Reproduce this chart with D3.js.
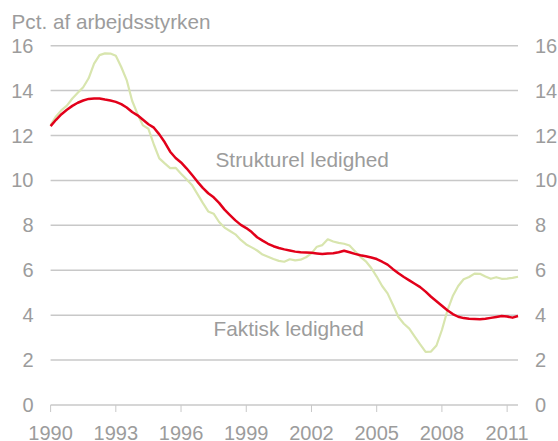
<!DOCTYPE html>
<html>
  <head>
    <meta charset="utf-8" />
    <script src="https://d3js.org/d3.v7.min.js"></script>
    <style>
      body { margin: 0; background: #fff; }
      text { font-family: "Liberation Sans", Arial, sans-serif; fill: #9c9c9c; }
    </style>
  </head>
  <body>
    <script>
      // quarterly observations, 1990Q1 .. 2011Q3
      const quarters = d3.range(0, 87).map((i) => 1990 + i / 4);

      // strukturel ledighed (red)
      const structural = [
        12.42, 12.7, 12.95, 13.15, 13.32, 13.46, 13.56, 13.63, 13.65, 13.65, 13.6, 13.56,
        13.5, 13.4, 13.25, 13.05, 12.9, 12.7, 12.5, 12.35, 12.05, 11.7, 11.28, 11.0,
        10.8, 10.54, 10.25, 9.95, 9.67, 9.43, 9.25, 9.0, 8.7, 8.46, 8.22, 8.02,
        7.88, 7.7, 7.47, 7.32, 7.18, 7.07, 6.99, 6.93, 6.88, 6.83, 6.8, 6.79,
        6.78, 6.75, 6.72, 6.75, 6.76, 6.8, 6.87, 6.8, 6.73, 6.67, 6.62, 6.57,
        6.5, 6.38, 6.25, 6.05, 5.87, 5.7, 5.55, 5.4, 5.25, 5.05, 4.82, 4.62,
        4.42, 4.22, 4.05, 3.93, 3.87, 3.84, 3.83, 3.82, 3.84, 3.88, 3.92, 3.96,
        3.94, 3.89, 3.96
      ];

      // faktisk ledighed (light green)
      const actual = [
        12.47, 12.85, 13.13, 13.33, 13.65, 13.9, 14.15, 14.55, 15.2, 15.58, 15.66, 15.65,
        15.55, 15.05, 14.47, 13.55, 12.95, 12.45, 12.3, 11.6, 10.98, 10.76, 10.55, 10.56,
        10.3, 10.05, 9.8, 9.4, 9.0, 8.62, 8.52, 8.15, 7.9, 7.75, 7.6, 7.35,
        7.15, 7.02, 6.88, 6.7, 6.6, 6.5, 6.42, 6.38, 6.49, 6.44, 6.47, 6.58,
        6.75, 7.05, 7.12, 7.38, 7.28, 7.22, 7.18, 7.1, 6.85, 6.6, 6.4, 6.1,
        5.72, 5.3, 4.97, 4.45, 3.92, 3.62, 3.4, 3.05, 2.7, 2.37, 2.38, 2.65,
        3.34, 4.2, 4.85, 5.3, 5.6, 5.7, 5.85, 5.84, 5.72, 5.62, 5.69, 5.62,
        5.63, 5.66, 5.71
      ];

      const yTicks = [0, 2, 4, 6, 8, 10, 12, 14, 16];
      const xTicks = [1990, 1993, 1996, 1999, 2002, 2005, 2008, 2011];

      const width = 558, height = 441;
      const svg = d3.select("body").append("svg")
        .attr("width", width)
        .attr("height", height);

      const x = d3.scaleLinear().domain([1990, 2011.5]).range([50.6, 518]);
      const y = d3.scaleLinear().domain([0, 16]).range([405, 45.7]);

      // gridlines
      svg.append("g")
        .selectAll("line")
        .data(yTicks)
        .join("line")
        .attr("x1", x(1990))
        .attr("x2", x(2011.5))
        .attr("y1", (d) => y(d))
        .attr("y2", (d) => y(d))
        .attr("stroke", "#c8c8c8")
        .attr("stroke-width", 1.5);

      // x tick marks
      svg.append("g")
        .selectAll("line")
        .data(xTicks)
        .join("line")
        .attr("x1", (d) => x(d))
        .attr("x2", (d) => x(d))
        .attr("y1", y(0))
        .attr("y2", y(0) + 7)
        .attr("stroke", "#c8c8c8")
        .attr("stroke-width", 1);

      // y labels, both sides
      svg.append("g")
        .selectAll("text")
        .data(yTicks)
        .join("text")
        .attr("x", 33.5)
        .attr("y", (d) => y(d))
        .attr("dy", "0.35em")
        .attr("text-anchor", "end")
        .attr("font-size", "20px")
        .text((d) => d);

      svg.append("g")
        .selectAll("text")
        .data(yTicks)
        .join("text")
        .attr("x", 535)
        .attr("y", (d) => y(d))
        .attr("dy", "0.35em")
        .attr("font-size", "20px")
        .text((d) => d);

      // x labels (cut by the bottom edge, as in the original)
      svg.append("g")
        .selectAll("text")
        .data(xTicks)
        .join("text")
        .attr("x", (d) => x(d))
        .attr("y", 440)
        .attr("text-anchor", "middle")
        .attr("font-size", "20px")
        .text((d) => d);

      const line = d3.line()
        .x((d, i) => x(quarters[i]))
        .y((d) => y(d));

      svg.append("path")
        .datum(actual)
        .attr("d", line)
        .attr("fill", "none")
        .attr("stroke", "#d8e5ae")
        .attr("stroke-width", 2.2)
        .attr("stroke-linejoin", "round");

      svg.append("path")
        .datum(structural)
        .attr("d", line)
        .attr("fill", "none")
        .attr("stroke", "#e2001a")
        .attr("stroke-width", 2.5)
        .attr("stroke-linejoin", "round");

      // title and series labels
      svg.append("text")
        .attr("x", 11.5)
        .attr("y", 29)
        .attr("font-size", "20.7px")
        .text("Pct. af arbejdsstyrken");

      svg.append("text")
        .attr("x", 215.5)
        .attr("y", 166.7)
        .attr("font-size", "20.8px")
        .text("Strukturel ledighed");

      svg.append("text")
        .attr("x", 213.5)
        .attr("y", 336)
        .attr("font-size", "20.8px")
        .text("Faktisk ledighed");
    </script>
  </body>
</html>
